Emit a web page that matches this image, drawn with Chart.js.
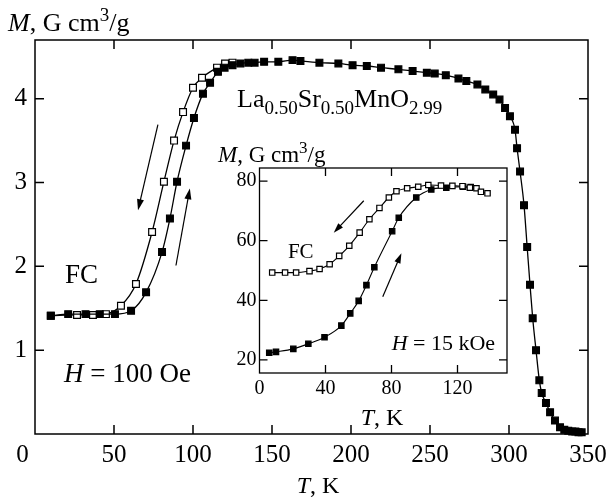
<!DOCTYPE html>
<html>
<head>
<meta charset="utf-8">
<script src="https://cdn.jsdelivr.net/npm/chart.js@4.4.1/dist/chart.umd.min.js"></script>
<style>
body{margin:0;background:#fff;}
#wrap{position:relative;width:615px;height:501px;}
#main{position:absolute;left:0;top:0;}
#inset{position:absolute;left:200px;top:140px;}
.probe{position:absolute;left:-999px;font-family:"Liberation Serif";}
</style>
</head>
<body>
<div id="wrap">
<canvas id="main" width="615" height="501"></canvas>
<canvas id="inset" width="315" height="295"></canvas>
</div>
<span class="probe">x</span><span class="probe" style="font-style:italic">x</span>
<script>
// main plot, H = 100 Oe
const heatT=[10,21,32,41,50.6,60.8,70.3,80.4,85.4,89.9,95.6,100.6,106.3,110.8,115.8,120,125,130,135,139,145,154,163,168,180,192,201,210,219,230,239,248,253,260,268,273,280,285,290,294,297.5,300.6,303.8,305.1,307,309.5,311.5,313.3,315,317.1,319.2,320.7,323.4,326,329.1,332.3,335,337.5,340,342,344,346];
const heatM=[1.41,1.43,1.43,1.43,1.43,1.47,1.69,2.17,2.57,3.01,3.44,3.77,4.06,4.19,4.32,4.37,4.40,4.42,4.43,4.43,4.44,4.44,4.46,4.45,4.43,4.42,4.40,4.39,4.37,4.35,4.33,4.31,4.30,4.28,4.24,4.21,4.17,4.11,4.05,3.99,3.89,3.79,3.63,3.41,3.13,2.73,2.23,1.78,1.38,1.00,0.64,0.49,0.37,0.26,0.16,0.08,0.05,0.04,0.03,0.03,0.02,0.02];
const coolT=[10,26.6,36.7,44.9,54.4,63.9,74.1,81.6,88,93.7,100,105.7,115.2,120.3,125];
const coolM=[1.41,1.42,1.42,1.43,1.53,1.79,2.41,3.01,3.50,3.84,4.13,4.25,4.37,4.42,4.43];
const xTicks=[0,50,100,150,200,250,300,350];
const yTicks=[1,2,3,4];

// inset, H = 15 kOe
const inCoolT=[7.7,15.5,22.2,30.3,36.4,42.5,48.3,54.4,60.7,66.6,72.7,78.4,83,89.5,96.2,102.3,110,116.9,123,127.5,131.5,134.2,138.2];
const inCoolM=[49.3,49.3,49.3,49.8,50.5,52.1,54.9,58.3,62.7,67.2,71.0,74.5,76.6,77.6,78.1,78.7,78.5,78.4,78.3,77.8,77.6,76.4,75.9];
const inHeatT=[5.9,10,20.5,29.6,39.4,49.6,55,60.1,64.8,69.6,80.4,84.4,95,104.1,113.2,123.4,128];
const inHeatM=[22.4,22.7,23.7,25.4,27.6,31.5,35.6,39.8,45.1,51.1,63.2,67.7,74.5,77.2,77.8,78.1,78.0];
const inXTicks=[0,40,80,120];
const inYTicks=[20,40,60,80];

const serif='"Liberation Serif", "Times New Roman", "Nimbus Roman", "DejaVu Serif", serif';
const pts=(xs,ys)=>xs.map((x,i)=>({x:x,y:ys[i]}));

function rich(ctx,x,y,parts,size,align){
  const font=(p)=>{
    let s=(p[1]==='sub'||p[1]==='sup')?Math.round(size*0.72):size;
    return (p[1]==='i'?'italic ':'')+s+'px '+serif;
  };
  let w=0;
  parts.forEach(p=>{ctx.font=font(p);w+=ctx.measureText(p[0]).width;});
  let cx=align==='center'?x-w/2:x;
  ctx.textAlign='left';ctx.textBaseline='alphabetic';ctx.fillStyle='#000';
  parts.forEach(p=>{
    ctx.font=font(p);
    let dy=p[1]==='sub'?size*0.28:(p[1]==='sup'?-size*0.38:0);
    ctx.fillText(p[0],cx,y+dy);
    cx+=ctx.measureText(p[0]).width;
  });
}

function arrow(ctx,x1,y1,x2,y2,head){
  const a=Math.atan2(y2-y1,x2-x1);
  ctx.save();
  ctx.strokeStyle='#000';ctx.fillStyle='#000';ctx.lineWidth=1.2;
  ctx.beginPath();ctx.moveTo(x1,y1);ctx.lineTo(x2-Math.cos(a)*head*0.8,y2-Math.sin(a)*head*0.8);ctx.stroke();
  ctx.beginPath();
  ctx.moveTo(x2,y2);
  ctx.lineTo(x2-head*Math.cos(a)+head*0.32*Math.sin(a),y2-head*Math.sin(a)-head*0.32*Math.cos(a));
  ctx.lineTo(x2-head*Math.cos(a)-head*0.32*Math.sin(a),y2-head*Math.sin(a)+head*0.32*Math.cos(a));
  ctx.closePath();ctx.fill();
  ctx.restore();
}

const frame=(xIn,yIn,len,lw)=>({
  id:'frame',
  beforeDatasetsDraw(chart){
    const {ctx,chartArea:a,scales:{x,y}}=chart;
    ctx.save();
    ctx.strokeStyle='#000';ctx.lineWidth=lw;
    ctx.strokeRect(a.left,a.top,a.right-a.left,a.bottom-a.top);
    ctx.beginPath();
    xIn.forEach(v=>{const px=x.getPixelForValue(v);ctx.moveTo(px,a.bottom);ctx.lineTo(px,a.bottom-len);ctx.moveTo(px,a.top);ctx.lineTo(px,a.top+len);});
    yIn.forEach(v=>{const py=y.getPixelForValue(v);ctx.moveTo(a.left,py);ctx.lineTo(a.left+len,py);ctx.moveTo(a.right,py);ctx.lineTo(a.right-len,py);});
    ctx.stroke();ctx.restore();
  }
});

function dset(xs,ys,fill,r,bw){
  return {data:pts(xs,ys),borderColor:'#000',borderWidth:bw,pointStyle:'rect',pointRadius:r,
    pointBorderColor:'#000',pointBackgroundColor:fill,pointBorderWidth:1.2,
    cubicInterpolationMode:'monotone',clip:false,fill:false};
}

function axisOpts(min,max,ticks,size,pad,fit,cb){
  return {type:'linear',min:min,max:max,
    afterBuildTicks:s=>{s.ticks=ticks.map(v=>({value:v}));},
    afterFit:fit,
    grid:{display:false,drawTicks:false},border:{display:false},
    ticks:{padding:pad,color:'#000',font:{family:serif,size:size},maxRotation:0,autoSkip:false,callback:cb||(v=>String(v))}};
}

const mainText={
  id:'mainText',
  afterDatasetsDraw(chart){
    const {ctx,scales:{x,y}}=chart;
    ctx.save();
    rich(ctx,8,31,[['M','i'],[', G cm',''],['3','sup'],['/g','']],26,'left');
    rich(ctx,318,493,[['T','i'],[', K','']],24,'center');
    rich(ctx,x.getPixelForValue(19),y.getPixelForValue(1.80),[['FC','']],27,'left');
    rich(ctx,x.getPixelForValue(18.4),y.getPixelForValue(0.62),[['H','i'],[' = 100 Oe','']],27,'left');
    rich(ctx,x.getPixelForValue(127.9),y.getPixelForValue(3.90),[['La',''],['0.50','sub'],['Sr',''],['0.50','sub'],['MnO',''],['2.99','sub']],26,'left');
    arrow(ctx,x.getPixelForValue(77.8),y.getPixelForValue(3.69),x.getPixelForValue(65.2),y.getPixelForValue(2.67),11);
    arrow(ctx,x.getPixelForValue(89.2),y.getPixelForValue(2.01),x.getPixelForValue(98),y.getPixelForValue(2.93),11);
    ctx.restore();
  }
};

const insetText={
  id:'insetText',
  afterDatasetsDraw(chart){
    const {ctx,scales:{x,y}}=chart;
    ctx.save();
    rich(ctx,18,22,[['M','i'],[', G cm',''],['3','sup'],['/g','']],23,'left');
    rich(ctx,182,285,[['T','i'],[', K','']],24,'center');
    rich(ctx,x.getPixelForValue(17.2),y.getPixelForValue(54.2),[['FC','']],21,'left');
    rich(ctx,x.getPixelForValue(80.1),y.getPixelForValue(23.3),[['H','i'],[' = 15 kOe','']],22,'left');
    arrow(ctx,x.getPixelForValue(63.2),y.getPixelForValue(73.4),x.getPixelForValue(45),y.getPixelForValue(62.7),10);
    arrow(ctx,x.getPixelForValue(74.7),y.getPixelForValue(41.2),x.getPixelForValue(86),y.getPixelForValue(55.8),10);
    ctx.restore();
  }
};

function build(){
  new Chart(document.getElementById('main'),{
    type:'line',
    data:{datasets:[dset(heatT,heatM,'#000',4.8,1.3),dset(coolT,coolM,'#fff',4.8,1.3)]},
    options:{
      responsive:false,animation:false,devicePixelRatio:1,
      layout:{padding:{left:0,right:27,top:40,bottom:0}},
      plugins:{legend:{display:false},tooltip:{enabled:false}},
      scales:{
        x:axisOpts(0,350,xTicks,25,6,s=>{s.height=67;},v=>v===0?'0\u2003':String(v)),
        y:axisOpts(0,4.7,yTicks,25,8,s=>{s.width=35;})
      }
    },
    plugins:[frame(xTicks.slice(1,-1),yTicks,9,1.5),mainText]
  });

  new Chart(document.getElementById('inset'),{
    type:'line',
    data:{datasets:[dset(inCoolT,inCoolM,'#fff',3.8,1.1),dset(inHeatT,inHeatM,'#000',3.8,1.1)]},
    options:{
      responsive:false,animation:false,devicePixelRatio:1,
      layout:{padding:{left:0,right:8,top:28,bottom:0}},
      plugins:{legend:{display:false},tooltip:{enabled:false}},
      scales:{
        x:axisOpts(0,150,inXTicks,20,4,s=>{s.height=62;}),
        y:axisOpts(15.6,84.4,inYTicks,20,3,s=>{s.width=59.5;})
      }
    },
    plugins:[frame(inXTicks.slice(1),inYTicks,8,1.3),insetText]
  });
}

Promise.all([
  document.fonts.load('24px "Liberation Serif"'),
  document.fonts.load('italic 24px "Liberation Serif"')
]).then(build,build);
</script>
</body>
</html>
